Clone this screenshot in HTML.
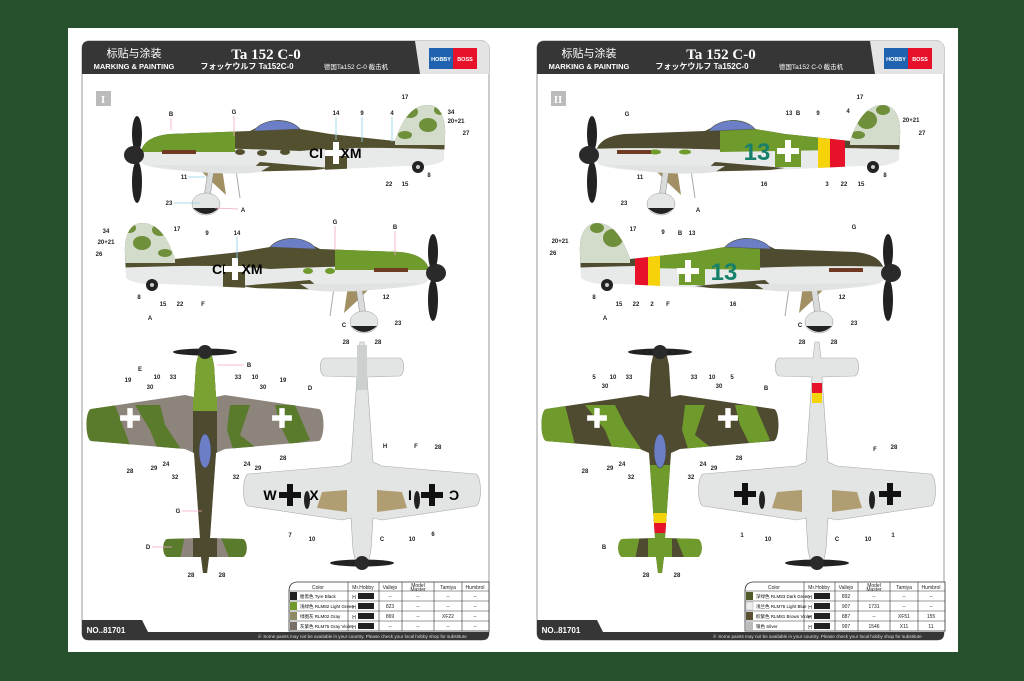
<!DOCTYPE html>
<html><head><meta charset="utf-8"><style>
html,body{margin:0;padding:0;background:#27502c;}
svg{display:block}
text{font-family:"Liberation Sans","Noto Sans CJK SC",sans-serif}
text.sf{font-family:"Liberation Serif",serif}
.l{font-size:6px;font-weight:bold;fill:#222;text-anchor:middle}
.b{stroke:#8fd0e6;stroke-width:0.8;fill:none}
.p{stroke:#f4a6c6;stroke-width:0.8;fill:none}
.t{font-size:5px;fill:#222;text-anchor:middle}
</style></head><body>
<svg width="1024" height="681" viewBox="0 0 1024 681" xmlns="http://www.w3.org/2000/svg">
<defs>
<path id="fus" d="M140,157 C141,143 150,136 170,134 L250,131 L258,127 C268,118 290,117 300,129 L330,134 L395,141 C402,120 412,105 428,105 C440,105 446,118 445,135 L444,160 C436,166 420,167 405,166 L320,170 L230,172 C185,172 155,169 145,165 C141,162 140,160 140,157 Z"/>
<clipPath id="cfus"><use href="#fus"/></clipPath>
<path id="top" d="M-5,2 L5,2 L9,20 L11,52 L20,50 L114,64 C120,66 120,93 114,96 L20,104 L11,108 L8,150 L5,193 L38,194 C43,196 43,210 38,212 L4,212 L2,228 L-2,228 L-4,212 L-38,212 C-43,210 -43,196 -38,194 L-5,193 L-8,150 L-11,108 L-20,104 L-114,96 C-120,93 -120,66 -114,64 L-20,50 L-11,52 L-9,20 Z"/>
<clipPath id="ctop"><use href="#top"/></clipPath>
<path id="bk" d="M-3,-11 L3,-11 L3,-3 L11,-3 L11,3 L3,3 L3,11 L-3,11 L-3,3 L-11,3 L-11,-3 L-3,-3 Z"/>
<g id="prop">
<ellipse cx="137" cy="134" rx="5" ry="18" fill="#222"/><ellipse cx="137" cy="182" rx="5" ry="21" fill="#222"/>
<ellipse cx="134" cy="155" rx="10" ry="9" fill="#2a2a2a"/>
</g>
<g id="gear">
<path d="M200,170 L222,168 L226,195 L212,182 Z" fill="#a28f63"/>
<path d="M208,170 L214,170 L210,197 L204,197 Z" fill="#d9dcdb" stroke="#888" stroke-width="0.5"/>
<ellipse cx="206" cy="204" rx="14" ry="11" fill="#e4e6e5" stroke="#999" stroke-width="0.5"/>
<path d="M193,208 Q206,220 219,208 Z" fill="#222"/>
<line x1="236" y1="170" x2="240" y2="198" stroke="#aaa" stroke-width="1"/>
<circle cx="418" cy="167" r="6" fill="#222"/><circle cx="418" cy="167" r="2" fill="#ccc"/>
<path d="M150,165 C180,172 230,176 260,172 L270,166 Z" fill="#e0e3e2"/>
<rect x="162" y="150" width="34" height="4" fill="#6e3b22"/>
</g>
<g id="hdr">
<rect x="82" y="41" width="407" height="599" rx="7" fill="#fff" stroke="#999" stroke-width="1"/>
<path d="M89,41 L482,41 Q489,41 489,48 L489,74 L82,74 L82,48 Q82,41 89,41 Z" fill="#e4e4e4"/>
<path d="M89,41 L415,41 L420,74 L82,74 L82,48 Q82,41 89,41 Z" fill="#363636"/>
<rect x="429" y="48" width="24" height="21" fill="#1f63b0"/><rect x="453" y="48" width="24" height="21" fill="#e8112a"/>
<text x="441" y="61" fill="#fff" font-size="5.5" font-weight="bold" text-anchor="middle">HOBBY</text>
<text x="465" y="61" fill="#fff" font-size="5.5" font-weight="bold" text-anchor="middle">BOSS</text>
<text x="134" y="57" fill="#fff" font-size="11" text-anchor="middle">标贴与涂装</text>
<text x="134" y="69" fill="#fff" font-size="7.5" font-weight="bold" text-anchor="middle">MARKING &amp; PAINTING</text>
<text class="sf" x="266" y="59" fill="#fff" font-size="15" font-weight="bold" text-anchor="middle">Ta 152 C-0</text>
<text x="247" y="69" fill="#fff" font-size="8" font-weight="bold" text-anchor="middle">フォッケウルフ Ta152C-0</text>
<text x="356" y="69" fill="#fff" font-size="6.5" text-anchor="middle">德国Ta152 C-0 截击机</text>
<path d="M82,620 L142,620 L148,632 L489,632 L489,634 Q489,640 483,640 L88,640 Q82,640 82,634 Z" fill="#363636"/>
<text x="106" y="633" fill="#fff" font-size="8" font-weight="bold" text-anchor="middle">NO..81701</text>
<text x="362" y="638" fill="#ddd" font-size="4.6" text-anchor="middle">※ Some paints may not be available in your country. Please check your local hobby shop for substitute</text>
<rect x="96" y="91" width="15" height="15" fill="#bbb"/>
</g>
</defs>
<rect x="68" y="28" width="890" height="624" fill="#fff"/>

<use href="#hdr"/>
<text class="sf" x="103" y="103" fill="#fff" font-size="11" font-weight="bold" text-anchor="middle">I</text>

<!-- left side view 1 -->
<g>
<use href="#fus" fill="#e7eae8"/>
<g clip-path="url(#cfus)">
<path d="M130,100 L460,100 L460,150 C400,148 350,146 300,151 C250,149 200,147 130,149 Z" fill="#53502f"/>
<rect x="130" y="100" width="105" height="52" fill="#6f9a2c"/>
<g fill="#53502f"><ellipse cx="240" cy="152" rx="5" ry="3"/><ellipse cx="262" cy="153" rx="5" ry="3"/><ellipse cx="285" cy="152" rx="5" ry="3"/></g>
<path d="M240,180 L300,172 L330,168 L260,162 Z" fill="#53502f"/>
<rect x="395" y="100" width="55" height="45" fill="#d3dccb"/>
<g fill="#6f8f3a"><ellipse cx="410" cy="112" rx="8" ry="6"/><ellipse cx="428" cy="125" rx="9" ry="7"/><ellipse cx="440" cy="110" rx="6" ry="5"/><ellipse cx="405" cy="135" rx="7" ry="4"/></g>
<rect x="325" y="138" width="22" height="32" fill="#53502f"/>
</g>
<path d="M254,131 C262,118 290,117 300,129 Z" fill="#6c7fc6" stroke="#555" stroke-width="0.6"/>
<use href="#prop"/><use href="#gear"/>
</g>
<!-- left side view 2 mirrored -->
<g transform="translate(570,118) scale(-1,1)">
<use href="#fus" fill="#e7eae8"/>
<g clip-path="url(#cfus)">
<path d="M130,100 L460,100 L460,150 C400,148 350,146 300,151 C250,149 200,147 130,149 Z" fill="#53502f"/>
<rect x="130" y="100" width="105" height="52" fill="#6f9a2c"/>
<g fill="#6f9a2c"><ellipse cx="240" cy="153" rx="5" ry="3"/><ellipse cx="262" cy="153" rx="5" ry="3"/></g>
<path d="M240,180 L300,172 L330,168 L260,162 Z" fill="#53502f"/>
<rect x="395" y="100" width="55" height="45" fill="#d3dccb"/>
<g fill="#6f8f3a"><ellipse cx="410" cy="112" rx="8" ry="6"/><ellipse cx="428" cy="125" rx="9" ry="7"/><ellipse cx="440" cy="110" rx="6" ry="5"/><ellipse cx="405" cy="135" rx="7" ry="4"/></g>
<rect x="325" y="138" width="22" height="32" fill="#53502f"/>
</g>
<path d="M254,131 C262,118 290,117 300,129 Z" fill="#6c7fc6" stroke="#555" stroke-width="0.6"/>
<use href="#prop"/><use href="#gear"/>
</g>
<text x="316" y="158" font-size="14" font-weight="bold" text-anchor="middle">CI</text>
<use href="#bk" transform="translate(336,153)" fill="#fff"/>
<text x="351" y="158" font-size="14" font-weight="bold" text-anchor="middle">XM</text>
<text x="219" y="274" font-size="14" font-weight="bold" text-anchor="middle">CI</text>
<use href="#bk" transform="translate(235,269)" fill="#fff"/>
<text x="252" y="274" font-size="14" font-weight="bold" text-anchor="middle">XM</text>

<!-- left top view -->
<g transform="translate(205,345)">
<use href="#top" fill="#8d847c"/>
<g clip-path="url(#ctop)">
<path d="M-120,60 L-90,60 L-75,100 L-120,100 Z" fill="#5a7a2c"/>
<path d="M-70,60 L-45,60 L-40,80 L-20,110 L-45,110 L-55,85 Z" fill="#5a7a2c"/>
<path d="M70,60 L90,60 L105,95 L85,100 L75,80 Z" fill="#5a7a2c"/>
<path d="M25,60 L45,60 L35,90 L60,110 L30,110 L22,85 Z" fill="#5a7a2c"/>
<rect x="-12" y="0" width="24" height="230" fill="#4e4a2f"/>
<rect x="-12" y="0" width="24" height="66" fill="#7aa233"/>
<path d="M-45,190 L-20,190 L-25,215 L-45,215 Z" fill="#5a7a2c"/><path d="M15,190 L45,190 L45,215 L25,215 Z" fill="#5a7a2c"/>
</g>
<ellipse cx="0" cy="106" rx="6" ry="17" fill="#6c7fc6" stroke="#444" stroke-width="0.6"/>
<ellipse cx="0" cy="7" rx="32" ry="3.5" fill="#222"/><circle cx="0" cy="7" r="7" fill="#2a2a2a"/>
<use href="#bk" transform="translate(-75,73) scale(0.9)" fill="#fff"/>
<use href="#bk" transform="translate(77,73) scale(0.9)" fill="#fff"/>
</g>
<!-- left bottom view -->
<g transform="translate(362,570) scale(1,-1)">
<use href="#top" fill="#e2e5e4" stroke="#aaa" stroke-width="0.6"/>
<rect x="-5" y="180" width="10" height="45" fill="#ccd0cf"/>
<path d="M-45,62 L-15,58 L-15,80 L-40,78 Z M45,62 L15,58 L15,80 L40,78 Z" fill="#b09e72"/>
<ellipse cx="-55" cy="70" rx="3" ry="9" fill="#222"/><ellipse cx="55" cy="70" rx="3" ry="9" fill="#222"/>
<ellipse cx="0" cy="7" rx="32" ry="3.5" fill="#222"/><circle cx="0" cy="7" r="7" fill="#2a2a2a"/>
</g>
<g fill="#111"><use href="#bk" transform="translate(290,495)"/><use href="#bk" transform="translate(432,495)"/></g>
<text x="270" y="500" font-size="14" font-weight="bold" text-anchor="middle">W</text>
<text x="314" y="500" font-size="14" font-weight="bold" text-anchor="middle">X</text>
<text x="410" y="500" font-size="14" font-weight="bold" text-anchor="middle">I</text>
<text x="454" y="500" font-size="14" font-weight="bold" text-anchor="middle" transform="translate(908,0) scale(-1,1)">C</text>

<!-- left labels -->
<g>
<line class="p" x1="171" y1="118" x2="171" y2="130"/><text class="l" x="171" y="116">B</text>
<line class="p" x1="234" y1="116" x2="234" y2="136"/><text class="l" x="234" y="114">G</text>
<line class="b" x1="336" y1="117" x2="336" y2="140"/><text class="l" x="336" y="115">14</text>
<line class="b" x1="362" y1="117" x2="362" y2="142"/><text class="l" x="362" y="115">9</text>
<line class="b" x1="392" y1="117" x2="392" y2="142"/><text class="l" x="392" y="115">4</text>
<text class="l" x="405" y="99">17</text><text class="l" x="451" y="114">34</text><text class="l" x="456" y="123">20+21</text><text class="l" x="466" y="135">27</text>
<text class="l" x="389" y="186">22</text><text class="l" x="405" y="186">15</text><text class="l" x="429" y="177">8</text>
<text class="l" x="184" y="179">11</text><line class="b" x1="188" y1="177" x2="205" y2="177"/>
<text class="l" x="169" y="205">23</text><line class="b" x1="174" y1="203" x2="200" y2="203"/>
<text class="l" x="243" y="212">A</text><line class="p" x1="215" y1="208" x2="238" y2="209"/>
<text class="l" x="106" y="233">34</text><text class="l" x="106" y="244">20+21</text><text class="l" x="99" y="256">26</text><text class="l" x="177" y="231">17</text>
<text class="l" x="207" y="235">9</text><text class="l" x="237" y="235">14</text><line class="b" x1="237" y1="237" x2="237" y2="260"/>
<text class="l" x="335" y="224">G</text><line class="p" x1="335" y1="226" x2="335" y2="250"/>
<text class="l" x="395" y="229">B</text><line class="p" x1="395" y1="231" x2="395" y2="255"/>
<text class="l" x="139" y="299">8</text><text class="l" x="163" y="306">15</text><text class="l" x="180" y="306">22</text><text class="l" x="203" y="306">F</text>
<text class="l" x="150" y="320">A</text><text class="l" x="386" y="299">12</text><text class="l" x="344" y="327">C</text><text class="l" x="398" y="325">23</text>
<text class="l" x="249" y="367">B</text><line class="p" x1="217" y1="365" x2="244" y2="365"/>
<text class="l" x="140" y="371">E</text><text class="l" x="128" y="382">19</text><text class="l" x="150" y="389">30</text><text class="l" x="157" y="379">10</text><text class="l" x="173" y="379">33</text>
<text class="l" x="238" y="379">33</text><text class="l" x="255" y="379">10</text><text class="l" x="263" y="389">30</text><text class="l" x="283" y="382">19</text><text class="l" x="310" y="390">D</text>
<text class="l" x="130" y="473">28</text><text class="l" x="154" y="470">29</text><text class="l" x="166" y="466">24</text><text class="l" x="175" y="479">32</text>
<text class="l" x="236" y="479">32</text><text class="l" x="247" y="466">24</text><text class="l" x="258" y="470">29</text><text class="l" x="283" y="460">28</text>
<text class="l" x="178" y="513">G</text><line class="p" x1="182" y1="511" x2="202" y2="511"/>
<text class="l" x="148" y="549">D</text><line class="p" x1="152" y1="547" x2="172" y2="547"/>
<text class="l" x="191" y="577">28</text><text class="l" x="222" y="577">28</text>
<text class="l" x="346" y="344">28</text><text class="l" x="378" y="344">28</text>
<text class="l" x="385" y="448">H</text><text class="l" x="416" y="448">F</text><text class="l" x="438" y="449">28</text>
<text class="l" x="290" y="537">7</text><text class="l" x="312" y="541">10</text><text class="l" x="382" y="541">C</text><text class="l" x="412" y="541">10</text><text class="l" x="433" y="536">6</text>
</g>

<!-- left table -->
<g font-size="5">
<path d="M298,582 L489,582 L489,631 L289,631 L289,591 Q289,582 298,582 Z" fill="#fff" stroke="#333" stroke-width="0.8"/>
<g stroke="#333" stroke-width="0.6">
<line x1="289" y1="591" x2="489" y2="591"/><line x1="289" y1="601" x2="489" y2="601"/><line x1="289" y1="611" x2="489" y2="611"/><line x1="289" y1="621" x2="489" y2="621"/>
<line x1="348" y1="582" x2="348" y2="631"/><line x1="379" y1="582" x2="379" y2="631"/><line x1="402" y1="582" x2="402" y2="631"/><line x1="434" y1="582" x2="434" y2="631"/><line x1="462" y1="582" x2="462" y2="631"/>
</g>
<text class="t" x="318" y="589" font-size="7">Color</text><text class="t" x="363" y="589">Mr.Hobby</text><text class="t" x="390" y="589">Vallejo</text><text class="t" x="418" y="587">Model</text><text class="t" x="418" y="591">Master</text><text class="t" x="448" y="589">Tamiya</text><text class="t" x="475" y="589">Humbrol</text>
<rect x="290" y="592" width="7" height="8" fill="#222"/><rect x="290" y="602" width="7" height="8" fill="#6f9a2c"/><rect x="290" y="612" width="7" height="8" fill="#8f8a66"/><rect x="290" y="622" width="7" height="8" fill="#7a7068"/>
<text x="300" y="598" font-size="4.5">胎黑色 Tyre Black</text><text x="300" y="608" font-size="4.5">浅绿色 RLM82 Light Green</text><text x="300" y="618" font-size="4.5">绿图灰 RLM02 Gray</text><text x="300" y="628" font-size="4.5">灰紫色 RLM75 Gray Violet</text>
<g fill="#222"><rect x="358" y="593" width="16" height="6"/><rect x="358" y="603" width="16" height="6"/><rect x="358" y="613" width="16" height="6"/><rect x="358" y="623" width="16" height="6"/></g>
<g class="t"><text x="354" y="599">H</text><text x="354" y="609">H</text><text x="354" y="619">H</text><text x="354" y="629">H</text>
<text x="390" y="598">--</text><text x="390" y="608">823</text><text x="390" y="618">869</text><text x="390" y="628">--</text>
<text x="418" y="598">--</text><text x="418" y="608">--</text><text x="418" y="618">--</text><text x="418" y="628">--</text>
<text x="448" y="598">--</text><text x="448" y="608">--</text><text x="448" y="618">XF22</text><text x="448" y="628">--</text>
<text x="475" y="598">--</text><text x="475" y="608">--</text><text x="475" y="618">--</text><text x="475" y="628">--</text></g>
</g>

<!-- ================= RIGHT SHEET ================= -->
<g transform="translate(455,0)">
<use href="#hdr"/>
<text class="sf" x="103" y="103" fill="#fff" font-size="11" font-weight="bold" text-anchor="middle">II</text>
<g>
<use href="#fus" fill="#e7eae8"/>
<g clip-path="url(#cfus)">
<path d="M130,100 L460,100 L460,150 C400,148 350,146 300,151 C250,149 200,147 130,149 Z" fill="#4f4b30"/>
<path d="M265,100 L380,100 L380,150 L265,152 Z" fill="#6f9a2c"/>
<g fill="#6f9a2c"><ellipse cx="200" cy="152" rx="6" ry="2.5"/><ellipse cx="230" cy="152" rx="6" ry="2.5"/></g>
<path d="M240,180 L300,172 L330,168 L260,162 Z" fill="#4f4b30"/>
<rect x="363" y="120" width="12" height="60" fill="#f5d20a"/><rect x="375" y="120" width="15" height="60" fill="#e8112a"/>
<rect x="395" y="100" width="55" height="45" fill="#d3dccb"/>
<g fill="#6f8f3a"><ellipse cx="412" cy="120" rx="10" ry="9"/><ellipse cx="428" cy="110" rx="7" ry="5"/><ellipse cx="403" cy="135" rx="7" ry="4"/></g>
<rect x="320" y="135" width="26" height="32" fill="#6f9a2c"/>
</g>
<path d="M254,131 C262,118 290,117 300,129 Z" fill="#6c7fc6" stroke="#555" stroke-width="0.6"/>
<use href="#prop"/><use href="#gear"/>
</g>
<g transform="translate(570,118) scale(-1,1)">
<use href="#fus" fill="#e7eae8"/>
<g clip-path="url(#cfus)">
<path d="M130,100 L460,100 L460,150 C400,148 350,146 300,151 C250,149 200,147 130,149 Z" fill="#4f4b30"/>
<path d="M265,100 L380,100 L380,150 L265,152 Z" fill="#6f9a2c"/>
<path d="M240,180 L300,172 L330,168 L260,162 Z" fill="#4f4b30"/>
<rect x="365" y="120" width="12" height="60" fill="#f5d20a"/><rect x="377" y="120" width="13" height="60" fill="#e8112a"/>
<rect x="395" y="100" width="55" height="45" fill="#d3dccb"/>
<g fill="#6f8f3a"><ellipse cx="412" cy="120" rx="10" ry="9"/><ellipse cx="428" cy="110" rx="7" ry="5"/></g>
<rect x="320" y="135" width="26" height="32" fill="#6f9a2c"/>
</g>
<path d="M254,131 C262,118 290,117 300,129 Z" fill="#6c7fc6" stroke="#555" stroke-width="0.6"/>
<use href="#prop"/><use href="#gear"/>
</g>
</g>
<text x="757" y="160" font-size="24" font-weight="bold" fill="#17806a" text-anchor="middle">13</text>
<use href="#bk" transform="translate(788,151)" fill="#fff"/>
<text x="724" y="280" font-size="24" font-weight="bold" fill="#17806a" text-anchor="middle">13</text>
<use href="#bk" transform="translate(688,271)" fill="#fff"/>

<g transform="translate(660,345)">
<use href="#top" fill="#4f4b30"/>
<g clip-path="url(#ctop)">
<path d="M-120,60 L-95,60 L-85,100 L-120,100 Z" fill="#6f9a2c"/>
<path d="M-75,60 L-45,60 L-35,80 L-15,110 L-45,110 L-55,85 Z" fill="#6f9a2c"/>
<path d="M75,60 L95,60 L110,95 L90,100 L80,80 Z" fill="#6f9a2c"/>
<path d="M25,60 L45,60 L35,90 L60,110 L30,110 L22,85 Z" fill="#6f9a2c"/>
<rect x="-12" y="120" width="24" height="110" fill="#6f9a2c"/>
<rect x="-12" y="168" width="24" height="10" fill="#f5d20a"/><rect x="-12" y="178" width="24" height="10" fill="#e8112a"/>
<path d="M-45,190 L-20,190 L-25,215 L-45,215 Z" fill="#6f9a2c"/><path d="M15,190 L45,190 L45,215 L25,215 Z" fill="#6f9a2c"/>
</g>
<ellipse cx="0" cy="106" rx="6" ry="17" fill="#6c7fc6" stroke="#444" stroke-width="0.6"/>
<ellipse cx="0" cy="7" rx="32" ry="3.5" fill="#222"/><circle cx="0" cy="7" r="7" fill="#2a2a2a"/>
<use href="#bk" transform="translate(-63,73) scale(0.9)" fill="#fff"/>
<use href="#bk" transform="translate(68,73) scale(0.9)" fill="#fff"/>
</g>
<g transform="translate(817,570) scale(1,-1)">
<use href="#top" fill="#e2e5e4" stroke="#aaa" stroke-width="0.6"/>
<rect x="-5" y="167" width="10" height="10" fill="#f5d20a"/><rect x="-5" y="177" width="10" height="10" fill="#e8112a"/>
<path d="M-45,62 L-15,58 L-15,80 L-40,78 Z M45,62 L15,58 L15,80 L40,78 Z" fill="#b09e72"/>
<ellipse cx="-55" cy="70" rx="3" ry="9" fill="#222"/><ellipse cx="55" cy="70" rx="3" ry="9" fill="#222"/>
<ellipse cx="0" cy="7" rx="32" ry="3.5" fill="#222"/><circle cx="0" cy="7" r="7" fill="#2a2a2a"/>
</g>
<g fill="#111"><use href="#bk" transform="translate(745,494)"/><use href="#bk" transform="translate(890,494)"/></g>

<g>
<text class="l" x="627" y="116">G</text><text class="l" x="789" y="115">13</text><text class="l" x="798" y="115">B</text><text class="l" x="818" y="115">9</text><text class="l" x="848" y="113">4</text><text class="l" x="860" y="99">17</text>
<text class="l" x="911" y="122">20+21</text><text class="l" x="922" y="135">27</text>
<text class="l" x="764" y="186">16</text><text class="l" x="827" y="186">3</text><text class="l" x="844" y="186">22</text><text class="l" x="861" y="186">15</text><text class="l" x="885" y="177">8</text>
<text class="l" x="640" y="179">11</text><text class="l" x="624" y="205">23</text><text class="l" x="698" y="212">A</text>
<text class="l" x="560" y="243">20+21</text><text class="l" x="553" y="255">26</text><text class="l" x="633" y="231">17</text><text class="l" x="663" y="234">9</text><text class="l" x="680" y="235">B</text><text class="l" x="692" y="235">13</text><text class="l" x="854" y="229">G</text>
<text class="l" x="594" y="299">8</text><text class="l" x="619" y="306">15</text><text class="l" x="636" y="306">22</text><text class="l" x="652" y="306">2</text><text class="l" x="668" y="306">F</text><text class="l" x="733" y="306">16</text>
<text class="l" x="605" y="320">A</text><text class="l" x="842" y="299">12</text><text class="l" x="800" y="327">C</text><text class="l" x="854" y="325">23</text>
<text class="l" x="594" y="379">5</text><text class="l" x="605" y="388">30</text><text class="l" x="613" y="379">10</text><text class="l" x="629" y="379">33</text>
<text class="l" x="694" y="379">33</text><text class="l" x="712" y="379">10</text><text class="l" x="719" y="388">30</text><text class="l" x="732" y="379">5</text><text class="l" x="766" y="390">B</text>
<text class="l" x="585" y="473">28</text><text class="l" x="610" y="470">29</text><text class="l" x="622" y="466">24</text><text class="l" x="631" y="479">32</text>
<text class="l" x="691" y="479">32</text><text class="l" x="703" y="466">24</text><text class="l" x="714" y="470">29</text><text class="l" x="739" y="460">28</text>
<text class="l" x="604" y="549">B</text><text class="l" x="646" y="577">28</text><text class="l" x="677" y="577">28</text>
<text class="l" x="802" y="344">28</text><text class="l" x="834" y="344">28</text>
<text class="l" x="875" y="451">F</text><text class="l" x="894" y="449">28</text>
<text class="l" x="742" y="537">1</text><text class="l" x="768" y="541">10</text><text class="l" x="837" y="541">C</text><text class="l" x="868" y="541">10</text><text class="l" x="893" y="537">1</text>
</g>

<g font-size="5" transform="translate(456,0)">
<path d="M298,582 L489,582 L489,631 L289,631 L289,591 Q289,582 298,582 Z" fill="#fff" stroke="#333" stroke-width="0.8"/>
<g stroke="#333" stroke-width="0.6">
<line x1="289" y1="591" x2="489" y2="591"/><line x1="289" y1="601" x2="489" y2="601"/><line x1="289" y1="611" x2="489" y2="611"/><line x1="289" y1="621" x2="489" y2="621"/>
<line x1="348" y1="582" x2="348" y2="631"/><line x1="379" y1="582" x2="379" y2="631"/><line x1="402" y1="582" x2="402" y2="631"/><line x1="434" y1="582" x2="434" y2="631"/><line x1="462" y1="582" x2="462" y2="631"/>
</g>
<text class="t" x="318" y="589" font-size="7">Color</text><text class="t" x="363" y="589">Mr.Hobby</text><text class="t" x="390" y="589">Vallejo</text><text class="t" x="418" y="587">Model</text><text class="t" x="418" y="591">Master</text><text class="t" x="448" y="589">Tamiya</text><text class="t" x="475" y="589">Humbrol</text>
<rect x="290" y="592" width="7" height="8" fill="#4e5a2a"/><rect x="290" y="602" width="7" height="8" fill="#eee" stroke="#999" stroke-width="0.4"/><rect x="290" y="612" width="7" height="8" fill="#5c5034"/><rect x="290" y="622" width="7" height="8" fill="#bbb"/>
<text x="300" y="598" font-size="4.5">深绿色 RLM83 Dark Green</text><text x="300" y="608" font-size="4.5">浅兰色 RLM76 Light Blue</text><text x="300" y="618" font-size="4.5">棕紫色 RLM81 Brown Violet</text><text x="300" y="628" font-size="4.5">银色 Silver</text>
<g fill="#222"><rect x="358" y="593" width="16" height="6"/><rect x="358" y="603" width="16" height="6"/><rect x="358" y="613" width="16" height="6"/><rect x="358" y="623" width="16" height="6"/></g>
<g class="t"><text x="354" y="599">H</text><text x="354" y="609">H</text><text x="354" y="619">H</text><text x="354" y="629">H</text>
<text x="390" y="598">892</text><text x="390" y="608">907</text><text x="390" y="618">887</text><text x="390" y="628">997</text>
<text x="418" y="598">--</text><text x="418" y="608">1731</text><text x="418" y="618">--</text><text x="418" y="628">1546</text>
<text x="448" y="598">--</text><text x="448" y="608">--</text><text x="448" y="618">XF51</text><text x="448" y="628">X11</text>
<text x="475" y="598">--</text><text x="475" y="608">--</text><text x="475" y="618">155</text><text x="475" y="628">11</text></g>
</g>
</svg>
</body></html>
